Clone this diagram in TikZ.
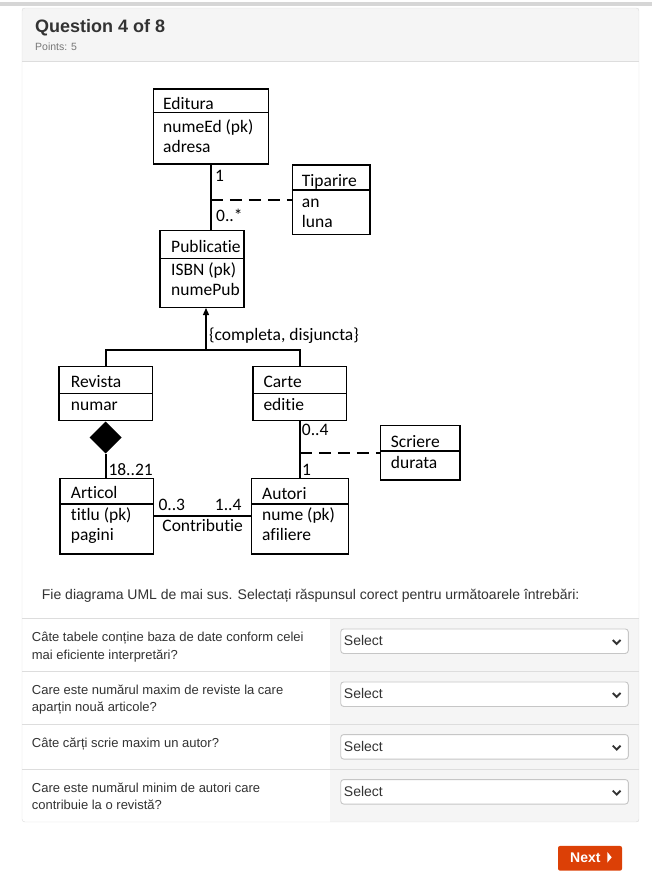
\documentclass[tikz,border=0pt]{standalone}
\usepackage{fontspec}
\setmainfont{Liberation Sans}
\newfontfamily\umlfont[Ligatures=NoCommon]{Carlito}
\usetikzlibrary{arrows.meta,shapes.geometric,positioning}
\definecolor{topbar}{HTML}{D6D6D6}
\definecolor{cardline}{HTML}{DDDDDD}
\definecolor{headbg}{HTML}{F5F5F5}
\definecolor{txt}{HTML}{333333}
\definecolor{muted}{HTML}{777777}
\definecolor{selline}{HTML}{C6C6C6}
\definecolor{nextbg}{HTML}{DC4006}
\tikzset{cls/.style={draw, line width=1.3pt, anchor=north west, inner sep=0pt},
  sepl/.style={line width=1.1pt},
  lbl/.style={inner sep=0pt, anchor=base west, font=\umlfont\fontsize{17.5}{20}\selectfont},
  assoc/.style={line width=2pt},
  dsh/.style={line width=2pt, dash pattern=on 12pt off 7pt},
  qtxt/.style={inner sep=0pt, anchor=base west, text=txt, align=left, font=\fontsize{13}{17.3}\selectfont},
  selbox/.style={draw=selline, fill=white, rounded corners=3pt, line width=0.9pt, inner sep=0pt,
    minimum width=287.6pt, minimum height=24.5pt},
  seltxt/.style={inner sep=0pt, anchor=base west, text=txt, font=\fontsize{14}{16}\selectfont},
  chev/.style={draw=txt, line width=1.9pt}}

\begin{document}
\begin{tikzpicture}[x=1pt,y=-1pt]
                \useasboundingbox (0,0) rectangle (652,893);
                % page frame
                \fill[topbar] (0,2) rectangle (652,6.5);
                \fill[white] (22,8) rectangle (639,822);
                \fill[headbg] (22,8) rectangle (639,61);
                \fill[headbg] (330,618.3) rectangle (639,822);
                \draw[cardline] (22,61) -- (639,61);
                \draw[cardline] (22,618.3) -- (639,618.3);
                \draw[cardline] (22,671) -- (639,671);
                \draw[cardline] (22,724.3) -- (639,724.3);
                \draw[cardline] (22,769.3) -- (639,769.3);
                \draw[cardline, rounded corners=3pt] (22,8) rectangle (639,822);
                \node[inner sep=0pt, anchor=base west, text=txt, font=\bfseries\fontsize{18}{22}\selectfont] (qtitle) at (35,32.3) {Question 4 of 8};
                \node[inner sep=0pt, anchor=base west, text=muted, font=\fontsize{10.5}{12}\selectfont] (qpts) at (35,51) {Points: 5};
                % classes
                \node[cls, minimum width=115pt, minimum height=75pt] (ed) at (152.7,88.3) {};
                \node[cls, minimum width=77.6pt, minimum height=69.7pt] (tip) at (291.7,164.3) {};
                \node[cls, minimum width=84pt, minimum height=76.7pt] (pub) at (159.3,230) {};
                \node[cls, minimum width=93.4pt, minimum height=54.3pt] (rev) at (58.3,365.7) {};
                \node[cls, minimum width=93.7pt, minimum height=54.3pt] (car) at (252.3,365.7) {};
                \node[cls, minimum width=79.3pt, minimum height=54.3pt] (scr) at (380,425) {};
                \node[cls, minimum width=93.4pt, minimum height=75.6pt] (art) at (59.3,477.7) {};
                \node[cls, minimum width=96.7pt, minimum height=75.6pt] (aut) at (251,477.7) {};
                \draw[sepl] ([yshift=-24.4pt]ed.north west) -- ([yshift=-24.4pt]ed.north east);
                \draw[sepl] ([yshift=-25.7pt]tip.north west) -- ([yshift=-25.7pt]tip.north east);
                \draw[sepl] ([yshift=-28.3pt]pub.north west) -- ([yshift=-28.3pt]pub.north east);
                \draw[sepl] ([yshift=-27.6pt]rev.north west) -- ([yshift=-27.6pt]rev.north east);
                \draw[sepl] ([yshift=-27.6pt]car.north west) -- ([yshift=-27.6pt]car.north east);
                \draw[sepl] ([yshift=-26pt]scr.north west) -- ([yshift=-26pt]scr.north east);
                \draw[sepl] ([yshift=-26.3pt]art.north west) -- ([yshift=-26.3pt]art.north east);
                \draw[sepl] ([yshift=-26.3pt]aut.north west) -- ([yshift=-26.3pt]aut.north east);
                \node[lbl] (edT) at (163,110) {Editura};
                \node[lbl] (edA) at (163,132.7) {numeEd (pk)};
                \node[lbl] (edB) at (163,152.7) {adresa};
                \node[lbl] (tipT) at (301.7,186.7) {Tiparire};
                \node[lbl] (tipA) at (301.7,208) {an};
                \node[lbl] (tipB) at (301.7,228) {luna};
                \node[lbl] (pubT) at (171,252.7) {Publicatie};
                \node[lbl] (pubA) at (171,275) {ISBN (pk)};
                \node[lbl] (pubB) at (171,295) {numePub};
                \node[lbl] (revT) at (70.7,387.7) {Revista};
                \node[lbl] (revA) at (70.7,410) {numar};
                \node[lbl] (carT) at (263.3,387.7) {Carte};
                \node[lbl] (carA) at (263.3,410) {editie};
                \node[lbl] (scrT) at (390.7,447.7) {Scriere};
                \node[lbl] (scrA) at (390.7,468.3) {durata};
                \node[lbl] (artT) at (70.7,498.3) {Articol};
                \node[lbl] (artA) at (70.7,520) {titlu (pk)};
                \node[lbl] (artB) at (70.7,540) {pagini};
                \node[lbl] (autT) at (262,499) {Autori};
                \node[lbl] (autA) at (262,520) {nume (pk)};
                \node[lbl] (autB) at (262,540) {afiliere};
                % links
                \draw[assoc] (ed.south) -- (ed.south |- pub.north);
                \draw[dsh] (ed.south |- tip.west) -- (tip.west);
                \node[lbl] (m1) at (215,181.7) {1};
                \node[lbl] (m2) at (216,221.7) {0..*};
                \coordinate (gen) at (206,350);
                \draw[assoc] (rev.north) |- (gen) -| (car.north);
                \draw[line width=1.3pt, -{Triangle[length=7pt,width=6pt]}] (gen) -- (gen |- pub.south);
                \node[lbl] (genL) at (209,340) {\{completa, disjuncta\}};
                \node[diamond, fill=black, inner sep=0pt, minimum width=32pt, minimum height=32pt, anchor=north] (comp) at (rev.south) {};
                \draw[assoc] (comp.south) -- (comp.south |- art.north);
                \node[lbl] (m3) at (108.3,475) {18..21};
                \draw[assoc] (car.south) -- (car.south |- aut.north);
                \draw[dsh] (car.south |- scr.west) -- (scr.west);
                \node[lbl] (m4) at (301.7,435) {0..4};
                \node[lbl] (m5) at (302,475) {1};
                \draw[assoc] (art.east) -- (aut.west);
                \node[lbl] (m6) at (158.3,510) {0..3};
                \node[lbl, anchor=base east] (m7) at (241.7,510) {1..4};
                \node[lbl, anchor=base] (contr) at (202.7,531.7) {Contributie};
                % questions (base = last line)
                \node[qtxt, font=\fontsize{14}{16}\selectfont] (intro) at (41.7,599) {Fie diagrama UML de mai sus. Selectați răspunsul corect pentru următoarele întrebări:};
                \node[qtxt] (q1) at (31.7,659) {Câte tabele conține baza de date conform celei\\mai eficiente interpretări?};
                \node[qtxt] (q2) at (31.7,711.6) {Care este numărul maxim de reviste la care\\aparțin nouă articole?};
                \node[qtxt] (q3) at (31.7,747.7) {Câte cărți scrie maxim un autor?};
                \node[qtxt] (q4) at (31.7,809.6) {Care este numărul minim de autori care\\contribuie la o revistă?};
                \node[selbox] (s1) at (484.5,641.2) {};
                \node[selbox] (s2) at (484.5,694.2) {};
                \node[selbox] (s3) at (484.5,746.8) {};
                \node[selbox] (s4) at (484.5,791.8) {};
                \node[seltxt] (s1T) at ([shift={(3.5pt,-4.5pt)}]s1.west) {Select};
                \node[seltxt] (s2T) at ([shift={(3.5pt,-4.5pt)}]s2.west) {Select};
                \node[seltxt] (s3T) at ([shift={(3.5pt,-4.5pt)}]s3.west) {Select};
                \node[seltxt] (s4T) at ([shift={(3.5pt,-4.5pt)}]s4.west) {Select};
                \draw[chev] ([shift={(-16pt,1.2pt)}]s1.east) -- ++(3.9pt,-3.9pt) -- ++(3.9pt,3.9pt);
                \draw[chev] ([shift={(-16pt,1.2pt)}]s2.east) -- ++(3.9pt,-3.9pt) -- ++(3.9pt,3.9pt);
                \draw[chev] ([shift={(-16pt,1.2pt)}]s3.east) -- ++(3.9pt,-3.9pt) -- ++(3.9pt,3.9pt);
                \draw[chev] ([shift={(-16pt,1.2pt)}]s4.east) -- ++(3.9pt,-3.9pt) -- ++(3.9pt,3.9pt);
                % next button
                \node[fill=nextbg, rounded corners=2pt, inner sep=0pt, minimum width=64pt, minimum height=24.7pt] (nx) at (590,858.3) {};
                \node[inner sep=0pt, anchor=base west, text=white, font=\bfseries\fontsize{14}{16}\selectfont] (nxT) at (570,862.7) {Next};
                \fill[white] ([shift={(17.3pt,6.3pt)}]nx.center) -- ++(4.4pt,-5.3pt) -- ++(-4.4pt,-5.3pt) -- cycle;
            \end{tikzpicture}
\end{document}
